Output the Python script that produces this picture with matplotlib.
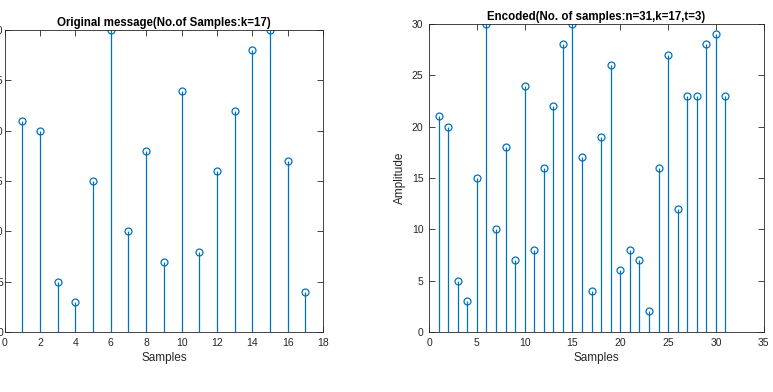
import numpy as np
import matplotlib.pyplot as plt

plt.rcParams['font.family'] = ['Liberation Sans', 'DejaVu Sans']

# message (k=17) and encoded (n=31) samples
msg_vals = [21, 20, 5, 3, 15, 30, 10, 18, 7, 24, 8, 16, 22, 28, 30, 17, 4]
enc_vals = [21, 20, 5, 3, 15, 30, 10, 18, 7, 24, 8, 16, 22, 28, 30, 17, 4,
            19, 26, 6, 8, 7, 2, 16, 27, 12, 23, 23, 28, 29, 23]
msg_x = np.arange(1, len(msg_vals) + 1)
enc_x = np.arange(1, len(enc_vals) + 1)

col = '#0072BD'
fig = plt.figure(figsize=(7.73, 3.92), dpi=100)
ax1 = fig.add_axes([0.006, 0.153, 0.412, 0.770])
ax2 = fig.add_axes([0.555, 0.153, 0.433, 0.786])


def stemplot(ax, x, y, title, xlim, xticks, ylabel=None):
    ml, sl, bl = ax.stem(x, y, basefmt=' ')
    plt.setp(sl, color=col, linewidth=0.9)
    plt.setp(ml, marker='o', markersize=5, markerfacecolor='none',
             markeredgecolor=col, markeredgewidth=0.9)
    ax.set_xlim(*xlim)
    ax.set_ylim(0, 30)
    ax.set_xticks(xticks)
    ax.set_yticks([0, 5, 10, 15, 20, 25, 30])
    ax.set_title(title, fontsize=8.3, fontweight='bold', pad=3)
    ax.set_xlabel('Samples', fontsize=8.5, color='#262626', labelpad=3)
    if ylabel:
        ax.set_ylabel(ylabel, fontsize=8.5, color='#262626', labelpad=4)
    ax.tick_params(direction='in', top=True, right=True, length=4, width=0.6,
                   labelsize=7.5, colors='#262626', pad=4)
    for s in ax.spines.values():
        s.set_linewidth(0.6)
        s.set_color('#262626')


stemplot(ax1, msg_x, msg_vals, 'Original message(No.of Samples:k=17)',
         (0, 18), range(0, 19, 2))
ax1.tick_params(axis='y', pad=1)
stemplot(ax2, enc_x, enc_vals, 'Encoded(No. of samples:n=31,k=17,t=3)',
         (0, 35), range(0, 36, 5), ylabel='Amplitude')

plt.savefig('out.png', dpi=100)
